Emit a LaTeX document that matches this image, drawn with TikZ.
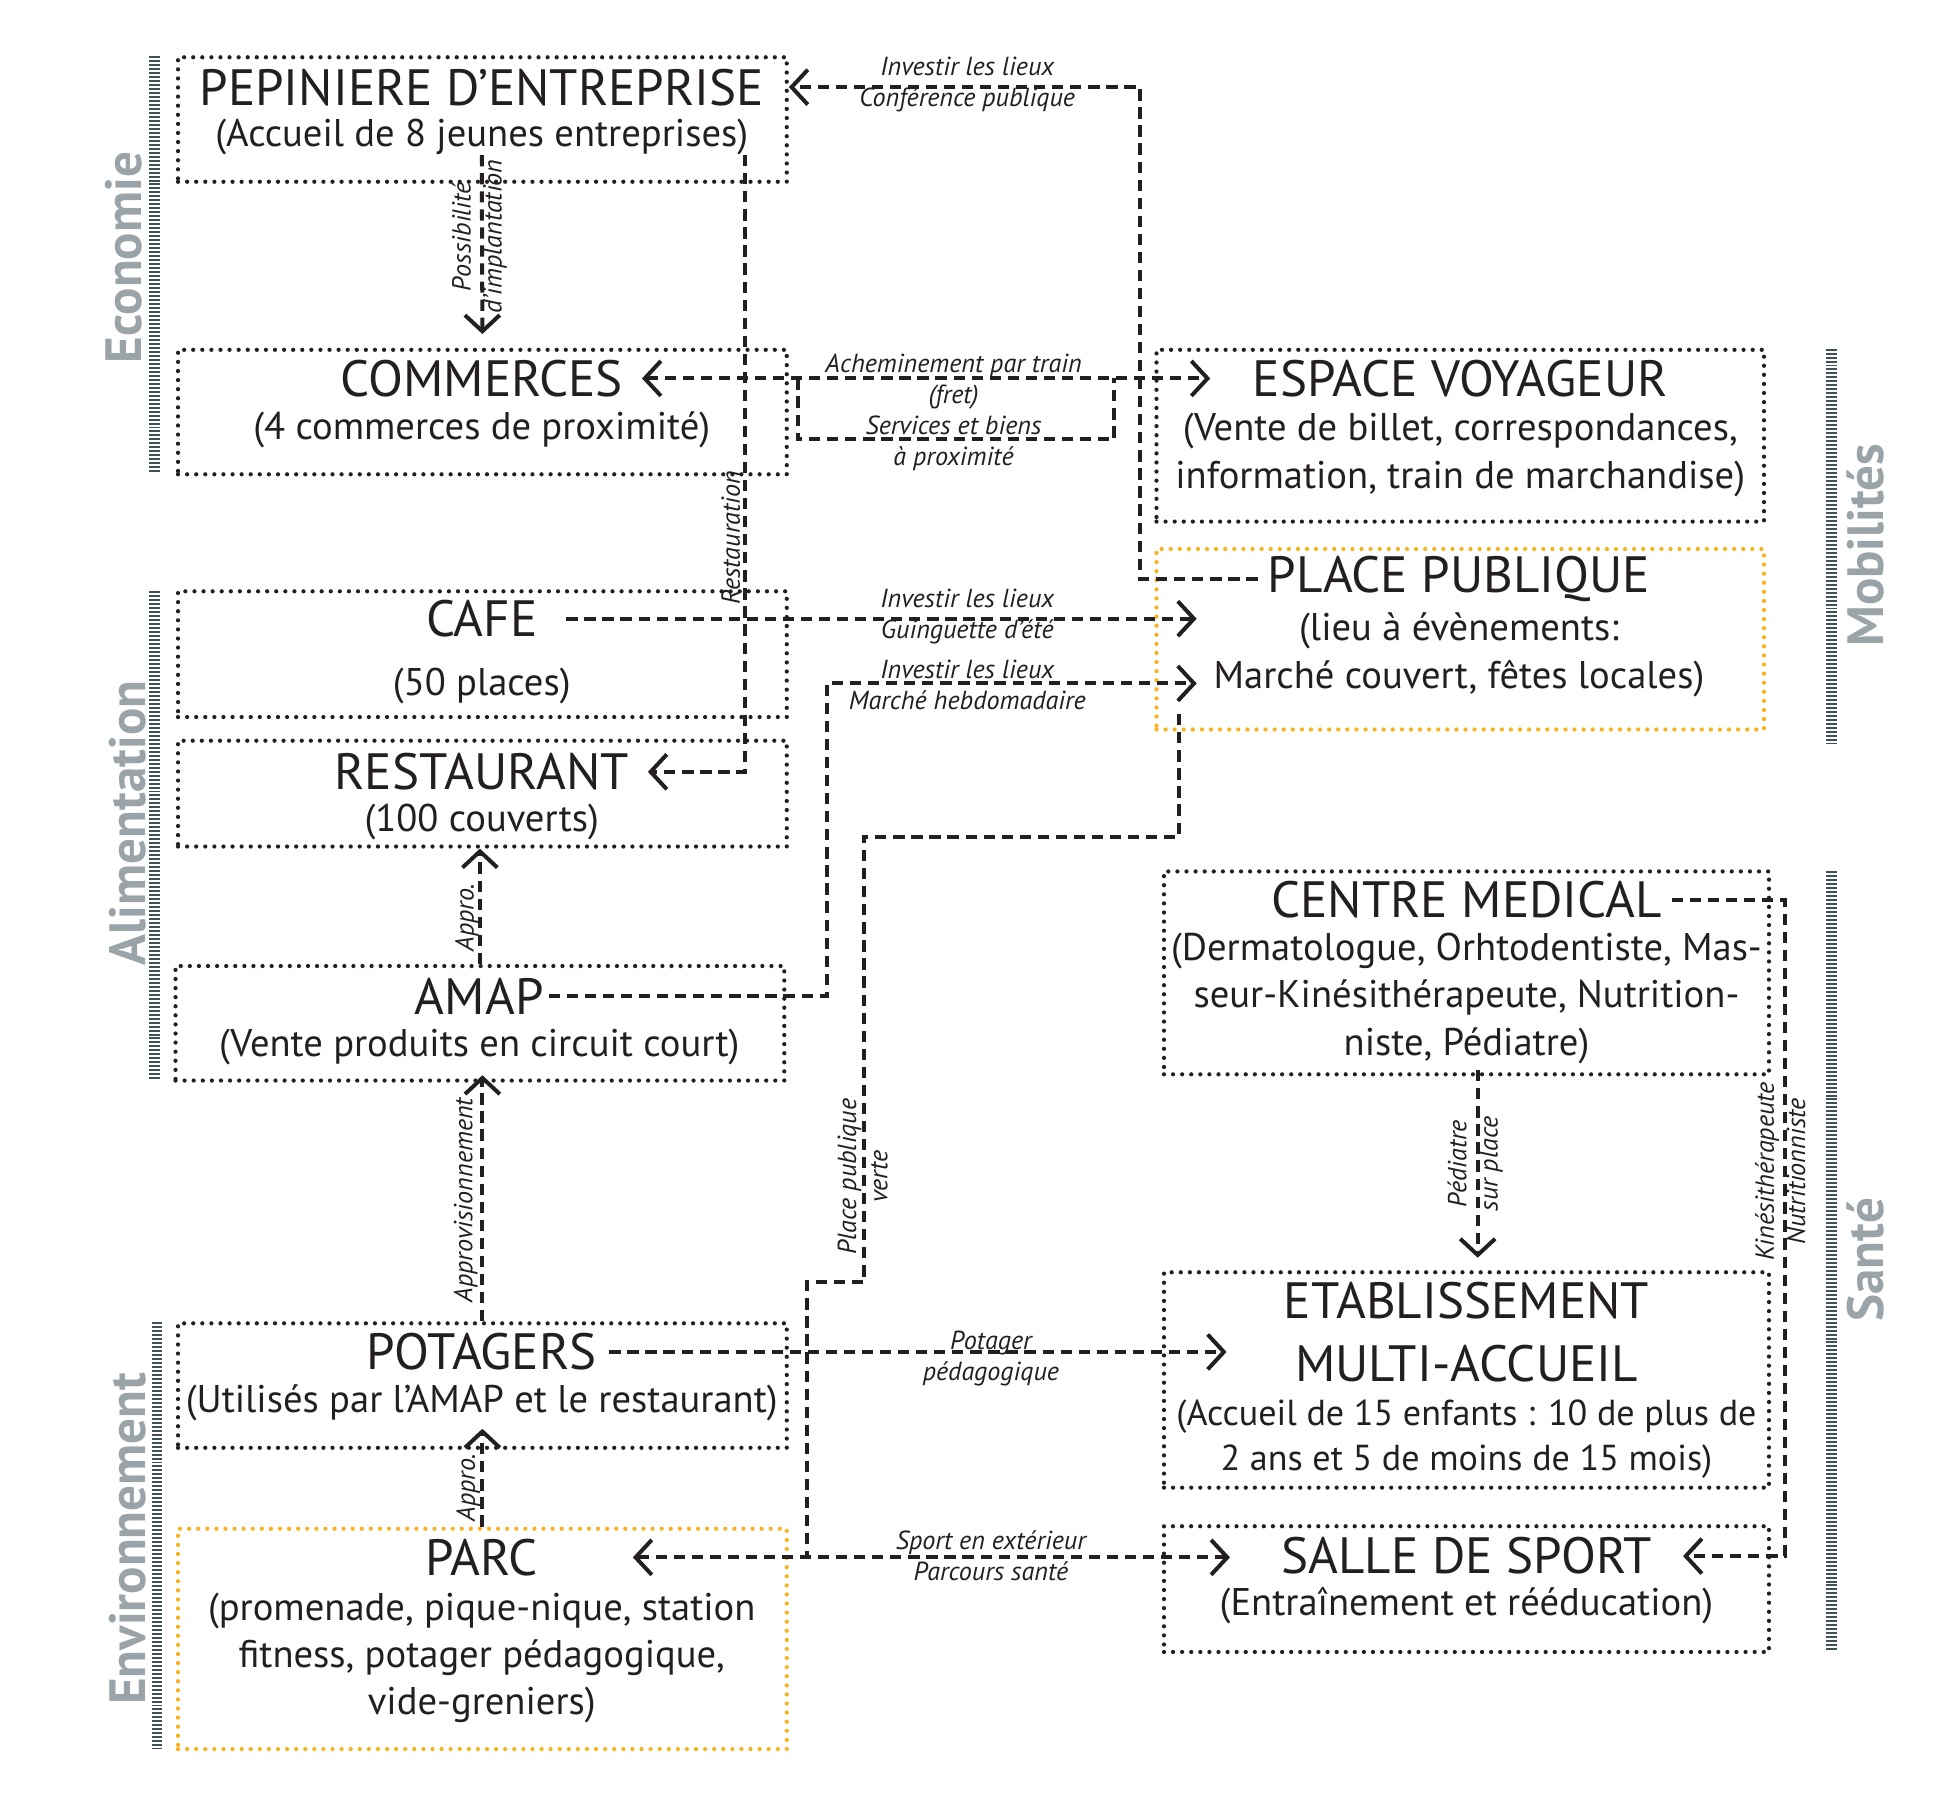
\documentclass[tikz,border=0pt]{standalone}
\usepackage{fontspec}
\setmainfont{PT Sans}
\usetikzlibrary{arrows.meta,calc}
\definecolor{encre}{HTML}{231F20}
\definecolor{ocre}{HTML}{F9B21B}
\definecolor{gristheme}{HTML}{9AA3A7}
\definecolor{ardoise}{HTML}{3E5058}
\begin{document}
\begin{tikzpicture}[x=1pt,y=-1pt,
  >={Straight Barb[length=13pt,width=28pt]},
  boite/.style={draw=encre,line width=3.4pt,line cap=round,dash pattern=on 0pt off 7.3pt,inner sep=0pt},
  boiteocre/.style={boite,draw=ocre},
  titre/.style={font=\fontsize{41}{50}\selectfont,text=encre,inner sep=0pt,align=center},
  detail/.style={font=\fontsize{31}{38}\selectfont,text=encre,inner sep=0pt,align=center},
  note/.style={font=\itshape\fontsize{21}{25}\selectfont,text=encre,inner sep=0pt,align=center},
  lien/.style={draw=encre,line width=3.2pt,dash pattern=on 9pt off 5.5pt},
  barre/.style={draw=ardoise,line width=8.6pt,dash pattern=on 1.6pt off 1.6pt},
  theme/.style={font=\bfseries\fontsize{41}{41}\selectfont,text=gristheme,rotate=90,anchor=base}]
\fill[white] (0,0) rectangle (1560,1446);
\useasboundingbox (0,0) rectangle (1560,1446);
% bandes des themes
\foreach \x/\a/\b in {124/45/380,124/475/868,126/1062/1405,1471/280/597,1471/700/1327}
\draw[barre] (\x,\a) -- (\x,\b);
\node[theme] (economie) at (114,207) {Economie};
\node[theme] (alimentation) at (117,661) {Alimentation};
\node[theme] (environnement) at (117,1236) {Environnement};
\node[theme] (mobilites) at (1513,438) {Mobilités};
\node[theme] (sante) at (1513,1012) {Santé};
% cadres
\node[boite,minimum width=489,minimum height=100] (pepcadre) at (387.5,96) {};
\node[boite,minimum width=489,minimum height=100] (comcadre) at (387.5,331) {};
\node[boite,minimum width=489,minimum height=101] (cafecadre) at (387.5,525.5) {};
\node[boite,minimum width=489,minimum height=85] (restocadre) at (387.5,637.5) {};
\node[boite,minimum width=489,minimum height=92] (amapcadre) at (385.5,822) {};
\node[boite,minimum width=489,minimum height=100] (potacadre) at (387.5,1113) {};
\node[boiteocre,minimum width=489,minimum height=177] (parccadre) at (387.5,1316.5) {};
\node[boite,minimum width=488,minimum height=138] (espacecadre) at (1173,350) {};
\node[boiteocre,minimum width=488,minimum height=145] (placecadre) at (1173,513.5) {};
\node[boite,minimum width=486,minimum height=163] (centrecadre) at (1178,781.5) {};
\node[boite,minimum width=486,minimum height=173] (etabcadre) at (1178,1108.5) {};
\node[boite,minimum width=486,minimum height=101] (sallecadre) at (1178,1276.5) {};
% textes
\node[titre] (pep) at (387,70) {PEPINIERE D'ENTREPRISE};
\node[detail] (pepdet) at (387,110) {(Accueil de 8 jeunes entreprises)};
\node[titre] (com) at (387,304) {COMMERCES};
\node[detail] (comdet) at (387,345) {(4 commerces de proximité)};
\node[titre] (cafe) at (387,497) {CAFE};
\node[detail] (cafedet) at (387,551) {(50 places)};
\node[titre] (resto) at (387,620) {RESTAURANT};
\node[detail] (restodet) at (387,660) {(100 couverts)};
\node[titre] (amap) at (385,800) {AMAP};
\node[detail] (amapdet) at (385,841) {(Vente produits en circuit court)};
\node[titre] (pota) at (387,1086) {POTAGERS};
\node[detail] (potadet) at (387,1127) {(Utilisés par l'AMAP et le restaurant)};
\node[titre] (parc) at (387,1251) {PARC};
\node[detail] (parcdet) at (387,1332) {(promenade, pique-nique, station\\fitness, potager pédagogique,\\vide-greniers)};
\node[titre] (espace) at (1173,304) {ESPACE VOYAGEUR};
\node[detail] (espacedet) at (1173,365.5) {(Vente de billet, correspondances,\\information, train de marchandise)};
\node[titre] (place) at (1172,465) {PLACE PUBLIQUE};
\node[detail] (placedet) at (1172,526) {(lieu à évènements:\\Marché couvert, fêtes locales)};
\node[titre] (centre) at (1178,723) {CENTRE MEDICAL};
\node[detail] (centredet) at (1178,802) {(Dermatologue, Orhtodentiste, Mas-\\seur-Kinésithérapeute, Nutrition-\\niste, Pédiatre)};
\node[titre] (etab) at (1178,1070) {ETABLISSEMENT\\MULTI-ACCUEIL};
\node[detail,font=\fontsize{29}{36}\selectfont] (etabdet) at (1178,1156) {(Accueil de 15 enfants : 10 de plus de\\2 ans et 5 de moins de 15 mois)};
\node[titre] (salle) at (1178,1250) {SALLE DE SPORT};
\node[detail] (salledet) at (1178,1290) {(Entraînement et rééducation)};
% liens
\coordinate (parcpointe) at ($(parc.east)+(76,0)$);
\coordinate (coude) at (648,1030);
\draw[lien,->] ([xshift=-8pt]place.west) -| (916,70) -- (pep -| pepcadre.east);
\draw[lien,->] (pepdet.south) -- ([yshift=11pt]comcadre.north);
\draw[lien,->] ([xshift=-3pt]pepdet.south east) |- ([xshift=15pt]resto.east);
\draw[lien,<->] ([xshift=15pt]com.east) -- ([xshift=-34pt]espace.west);
\draw[lien] (641,304) -- (641,353) -- (895,353) -- (895,304);
\draw[lien,->] ([xshift=23pt]cafe.east) -- ($(placecadre.west |- cafe)+(34,0)$);
\draw[lien,->] ([xshift=4pt]amap.east) -| (664,549) -- ($(placecadre.west)+(34,35.5)$);
\draw[lien,->] (amapcadre.north) -- (amapcadre.north |- restocadre.south);
\draw[lien,->] (potacadre.north) -- ($(potacadre.north |- amapcadre.south)+(0,-6)$);
\draw[lien,->] (parccadre.north) -- ($(potacadre.south)+(0,-17)$);
\draw[lien,->] ([xshift=10pt]pota.east) -- ($(etabcadre.west |- pota)+(52,0)$);
\draw[lien] ($(placecadre.south west)+(20,-14)$) |- (694,672) |- (coude) -- (coude |- parcpointe);
\draw[lien,<->] (parcpointe) -- ($(parcpointe -| salle.west)+(-41,0)$);
\draw[lien,->] ($(centrecadre.south)+(9,-5)$) -- ($(etabcadre.north)+(9,-10)$);
\draw[lien,->] ([xshift=8pt]centre.east) -| ($(sallecadre.east |- salle)+(11,0)$) -- ([xshift=25pt]salle.east);
% etiquettes
\node[note] at (777,67.5) {Investir les lieux\\Conférence publique};
\node[note] at (766,331) {Acheminement par train\\(fret)\\Services et biens\\à proximité};
\node[note] at (777,495) {Investir les lieux\\Guinguette d'été};
\node[note] at (777,550.5) {Investir les lieux\\Marché hebdomadaire};
\node[note] at (796,1091.5) {Potager\\pédagogique};
\node[note] at (796,1249.5) {Sport en extérieur\\Parcours santé};
\node[note,rotate=90] at (385,190) {Possibilité\\d'implantation};
\node[note,rotate=90] at (587,432) {Restauration};
\node[note,rotate=90] at (375,737) {Appro.};
\node[note,rotate=90] at (374,964) {Approvisionnement};
\node[note,rotate=90] at (376,1195) {Appro.};
\node[note,rotate=90] at (693,945) {Place publique\\verte};
\node[note,rotate=90] at (1185,935) {Pédiatre\\sur place};
\node[note,rotate=90] at (1430,941) {Kinésithérapeute\\Nutritionniste};
\end{tikzpicture}
\end{document}
